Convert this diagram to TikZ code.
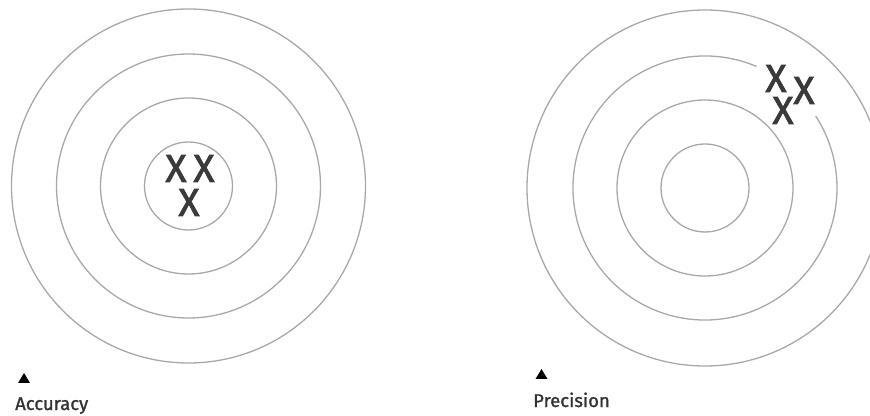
\documentclass[tikz,border=0pt]{standalone}
\usepackage{fontspec}
\setmainfont{Fira Sans}
\newfontfamily\markfont[FakeBold=2]{Fira Sans}
\newfontfamily\capfont[FakeBold=1.2]{Fira Sans}
\usepackage{xcolor}
\usepackage{tikz}
\usetikzlibrary{
	calc,
	positioning
}
\definecolor{RingGray}{RGB}{168,168,168}
\definecolor{MarkGray}{RGB}{58,58,58}
\definecolor{TextGray}{RGB}{50,50,50}

\begin{document}
\begin{tikzpicture}[x=1pt, y=1pt,
		ring/.style={draw=RingGray, line width=1.3pt},
		hit/.style={inner sep=0pt, text height=24pt, text depth=0pt, text=MarkGray, font=\markfont\fontsize{39}{39}\selectfont},
		caption/.style={inner sep=0pt, anchor=base west, text=TextGray, font=\capfont\fontsize{18.5}{18.5}\selectfont}]
			\clip (0,0) rectangle (870,415);
			\coordinate (A) at (188.5,229);
			\coordinate (P) at (705,227);
			% accuracy target
			\foreach \r in {44,88,132,177}
				\draw[ring] (A) circle (\r);
			\node[hit] (a1) at (176,245) {X};
			\node[hit] (a2) at (204,245) {X};
			\node[hit] (a3) at (189,211) {X};
			% precision target
			\foreach \r in {44,88,178}
				\draw[ring] (P) circle (\r);
			\draw[ring] ($(P)+(67:132)$) arc[start angle=67, end angle=393, radius=132];
			\node[hit] (p1) at (776,335) {X};
			\node[hit] (p2) at (804,323) {X};
			\node[hit] (p3) at (783,303) {X};
			% captions
			\coordinate (TA) at (24,37);
			\coordinate (TP) at (541.5,41);
			\fill[black] ($(TA)+(-6,-5)$) -- ($(TA)+(6,-5)$) -- ($(TA)+(0,5)$) -- cycle;
			\fill[black] ($(TP)+(-6,-5)$) -- ($(TP)+(6,-5)$) -- ($(TP)+(0,5)$) -- cycle;
			\node[caption] (acc) at (15,5) {Accuracy};
			\node[caption] (pre) at (533,8) {Precision};
		\end{tikzpicture}
\end{document}
